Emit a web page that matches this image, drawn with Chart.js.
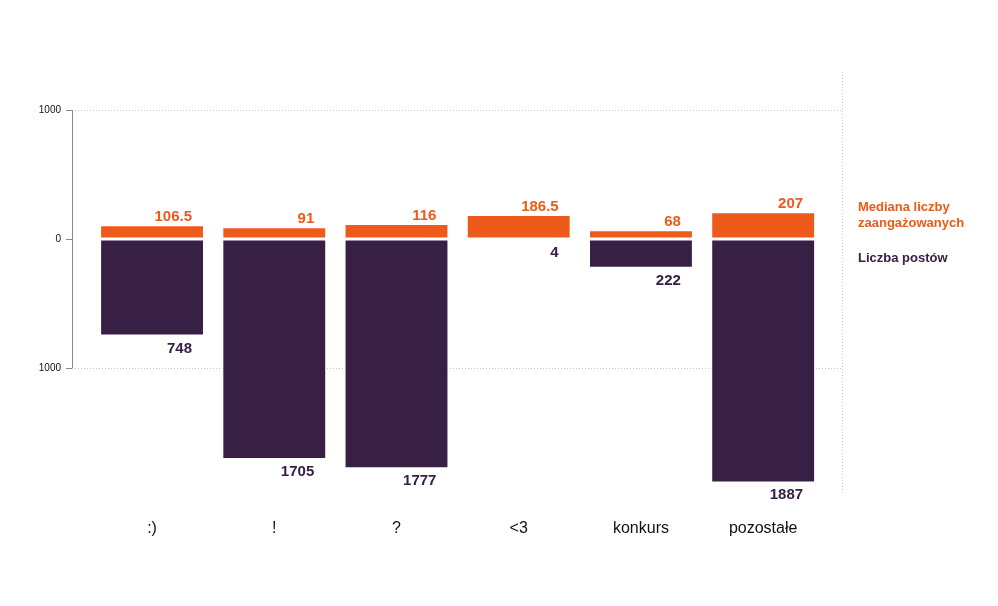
<!DOCTYPE html>
<html>
<head>
<meta charset="utf-8">
<script src="https://cdn.jsdelivr.net/npm/chart.js@4/dist/chart.umd.min.js"></script>
<style>
  html, body { margin: 0; padding: 0; background: #fff; }
  #wrap { position: relative; width: 998px; height: 606px; }
  #legend { position: absolute; left: 858px; top: 199px; font-family: "Liberation Sans", Arial, sans-serif; font-weight: bold; font-size: 13px; line-height: 16px; }
  #legend .m { color: #ED5A19; }
  #legend .p { color: #372044; margin-top: 19px; }
</style>
</head>
<body>
<div id="wrap">
  <canvas id="c" width="998" height="606"></canvas>
  <div id="legend">
    <div class="m">Mediana liczby<br>zaangażowanych</div>
    <div class="p">Liczba postów</div>
  </div>
</div>
<script>
const categories = [":)", "!", "?", "<3", "konkurs", "pozostałe"];
const medians = [106.5, 91, 116, 186.5, 68, 207];
const posts = [748, 1705, 1777, 4, 222, 1887];
const yTicks = [-1000, 0, 1000];

const ORANGE = "#ED5A19";
const PURPLE = "#372044";

const valueLabels = {
  id: "valueLabels",
  afterDatasetsDraw(chart) {
    const ctx = chart.ctx;
    ctx.save();
    ctx.font = "bold 15px 'Liberation Sans', Arial, sans-serif";
    ctx.textAlign = "right";
    ctx.textBaseline = "alphabetic";
    chart.data.datasets.forEach((ds, di) => {
      const meta = chart.getDatasetMeta(di);
      meta.data.forEach((el, i) => {
        const p = el.getProps(["x", "y", "width"], true);
        const right = p.x + p.width / 2 - 12;
        if (di === 0) {
          ctx.fillStyle = ORANGE;
          ctx.fillText(String(medians[i]), right, p.y - 4);
        } else {
          ctx.fillStyle = PURPLE;
          ctx.fillText(String(posts[i]), right, p.y + 17);
        }
      });
    });
    ctx.restore();
  }
};

const axisDeco = {
  id: "axisDeco",
  afterDraw(chart) {
    const ctx = chart.ctx;
    const a = chart.chartArea;
    const y = chart.scales.y;
    ctx.save();
    ctx.strokeStyle = "#888";
    ctx.lineWidth = 1;
    ctx.beginPath();
    ctx.moveTo(a.left + 0.5, y.getPixelForValue(yTicks[yTicks.length - 1]));
    ctx.lineTo(a.left + 0.5, y.getPixelForValue(yTicks[0]));
    ctx.stroke();
    ctx.strokeStyle = "#c8c8c8";
    ctx.setLineDash([1, 2]);
    ctx.beginPath();
    ctx.moveTo(a.right + 0.5, a.top);
    ctx.lineTo(a.right + 0.5, a.bottom);
    ctx.stroke();
    ctx.restore();
  }
};

new Chart(document.getElementById("c"), {
  type: "bar",
  data: {
    datasets: [
      {
        label: "Mediana liczby zaangażowanych",
        data: medians.map((v, i) => ({ x: i, y: v })),
        backgroundColor: ORANGE,
        borderColor: "#ffffff",
        borderWidth: 1,
        borderSkipped: false,
        grouped: false,
        barPercentage: 0.85,
        categoryPercentage: 1
      },
      {
        label: "Liczba postów",
        data: posts.map((v, i) => ({ x: i, y: -v })),
        backgroundColor: PURPLE,
        borderColor: "#ffffff",
        borderWidth: 1,
        borderSkipped: false,
        grouped: false,
        barPercentage: 0.85,
        categoryPercentage: 1
      }
    ]
  },
  options: {
    responsive: false,
    animation: false,
    layout: { padding: { left: 0, right: 156, top: 72, bottom: 0 } },
    plugins: { legend: { display: false }, tooltip: { enabled: false } },
    scales: {
      x: {
        type: "linear",
        offset: false,
        min: -0.655,
        max: 5.645,
        afterBuildTicks(scale) { scale.ticks = categories.map((_, i) => ({ value: i })); },
        afterFit(scale) { scale.height = 111; },
        grid: { display: false, drawTicks: false },
        border: { display: false },
        ticks: {
          padding: 24,
          maxRotation: 0,
          autoSkip: false,
          color: "#111",
          font: { family: "'Liberation Sans', Arial, sans-serif", size: 16 },
          callback: (v) => categories[v]
        }
      },
      y: {
        min: -1984,
        max: 1295,
        afterBuildTicks(scale) { scale.ticks = yTicks.map(v => ({ value: v })); },
        afterFit(scale) { scale.width = 72; },
        border: { display: false, dash: [1, 2] },
        grid: {
          color: (c) => (c.tick && c.tick.value === 0) ? "rgba(0,0,0,0)" : "#c8c8c8",
          tickColor: "#888",
          tickBorderDash: [],
          tickLength: 6,
          drawTicks: true
        },
        ticks: {
          padding: 5,
          color: "#111",
          font: { family: "'Liberation Sans', Arial, sans-serif", size: 10 },
          callback: (v) => String(Math.abs(v))
        }
      }
    }
  },
  plugins: [valueLabels, axisDeco]
});
</script>
</body>
</html>
